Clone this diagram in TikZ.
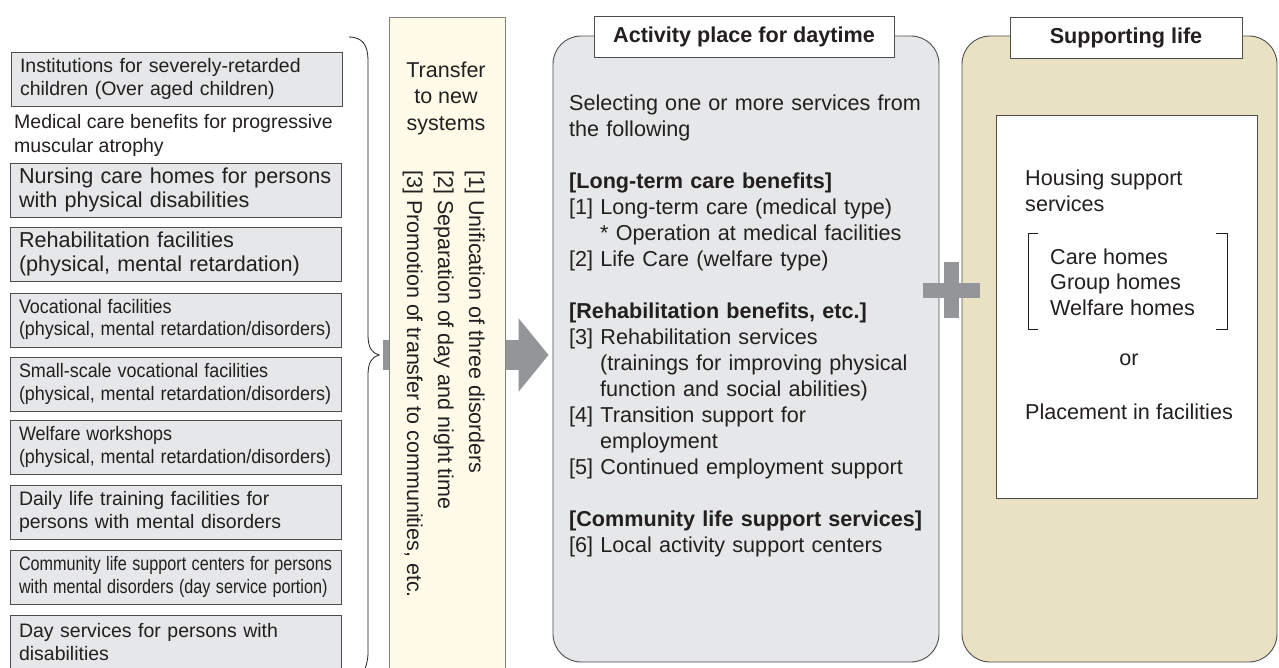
\documentclass[tikz,border=0pt]{standalone}
\usepackage{fontspec}
\usepackage{graphicx}
\setmainfont{Liberation Sans}
\usetikzlibrary{arrows.meta}
\definecolor{boxgray}{HTML}{E6E7E8}
\definecolor{edge}{HTML}{4D4D4F}
\definecolor{ink}{HTML}{231F20}
\definecolor{cream}{HTML}{FFFBE8}
\definecolor{khaki}{HTML}{E8E2C2}
\definecolor{arrowgray}{HTML}{939598}
\newcommand{\condtext}[2]{\scalebox{#1}[1]{\begin{tabular}{@{}l@{}}#2\end{tabular}}}
\tikzset{
  lbox/.style={draw=edge, fill=boxgray, line width=0.9pt, minimum width=331pt, minimum height=54pt,
    text width=313pt, inner xsep=9pt, inner ysep=0pt, align=left, text=ink,
    font=\fontsize{19.5}{23}\selectfont},
  bigbox/.style={lbox, font=\fontsize{21.6}{23.5}\selectfont},
  condbox/.style={lbox, font=\fontsize{19.5}{22.5}\selectfont},
  panel/.style={draw=edge, line width=0.9pt, rounded corners=28pt},
  labelbox/.style={draw=edge, fill=white, line width=0.9pt, minimum height=41pt,
    font=\bfseries\fontsize{21.6}{24}\selectfont, text=ink, inner sep=0pt},
  txt/.style={text=ink, inner sep=0pt, font=\fontsize{21.6}{26}\selectfont},
  bigarrow/.style={arrowgray, line width=30pt, -{Triangle[length=30pt,width=72pt]}},
  thinline/.style={draw=ink, line width=0.8pt}
}
\begin{document}
\begin{tikzpicture}[x=1pt,y=-1pt]
\path[use as bounding box] (0,0) rectangle (1279,667);
\begin{scope}
\clip (0,0) rectangle (1279,667);

% left list of old facilities
\node[lbox] (b1) at (176.5,79) {Institutions for severely-retarded\\children (Over aged children)};
\node[txt, anchor=west, align=left, font=\fontsize{19.5}{24}\selectfont] (b2) at (14,135) {Medical care benefits for progressive\\muscular atrophy};
\node[bigbox] (b3) at (175.5,190) {Nursing care homes for persons\\with physical disabilities};
\node[bigbox] (b4) at (175.5,254) {Rehabilitation facilities\\(physical, mental retardation)};
\node[condbox] (b5) at (175.5,320) {\condtext{0.92}{Vocational facilities\\(physical, mental retardation/disorders)}};
\node[condbox] (b6) at (175.5,384.5) {\condtext{0.92}{Small-scale vocational facilities\\(physical, mental retardation/disorders)}};
\node[condbox] (b7) at (175.5,447.5) {\condtext{0.92}{Welfare workshops\\(physical, mental retardation/disorders)}};
\node[lbox] (b8) at (175.5,512) {Daily life training facilities for\\persons with mental disorders};
\node[condbox] (b9) at (175.5,577.5) {\condtext{0.83}{Community life support centers for persons\\with mental disorders (day service portion)}};
\node[lbox] (b10) at (175.5,642) {Day services for persons with\\disabilities};

% brace
\coordinate (bracetop) at (349,37);
\coordinate (bracetip) at (379,355);
\coordinate (bracebot) at (349,680);
\draw[thinline] (bracetop) .. controls (362,37) and (368,45) .. (368,60) -- (368,335)
  .. controls (368,348) and (372,353) .. (bracetip)
  .. controls (372,357) and (368,362) .. (368,375) -- (368,652)
  .. controls (368,668) and (362,678) .. (bracebot);

% gray panel: activity place for daytime
\node[panel, fill=boxgray, minimum width=386pt, minimum height=626pt] (act) at (746,349) {};
\node[labelbox, minimum width=300pt] (actlab) at (744,36.5) {Activity place for daytime};
\node[txt, anchor=base west, text width=365pt, align=left] (acttext) at (569,110) {Selecting one or more services from\\
the following\\[26pt]
\textbf{[Long-term care benefits]}\\
{[1]} Long-term care (medical type)\\
\hspace*{31pt}* Operation at medical facilities\\
{[2]} Life Care (welfare type)\\[26pt]
\textbf{[Rehabilitation benefits, etc.]}\\
{[3]} Rehabilitation services\\
\hspace*{31pt}(trainings for improving physical\\
\hspace*{31pt}function and social abilities)\\
{[4]} Transition support for\\
\hspace*{31pt}employment\\
{[5]} Continued employment support\\[26pt]
\textbf{[Community life support services]}\\
{[6]} Local activity support centers};

% big arrow (behind the yellow box)
\coordinate (arrstart) at (383,355);
\draw[bigarrow, shorten >=4pt] (arrstart) -- (act.west |- arrstart);

% yellow transfer box
\node[draw=edge!70, fill=cream, line width=0.9pt, minimum width=116pt, minimum height=663pt] (ybox) at (447,348.5) {};
\node[txt, align=center, font=\fontsize{21.5}{26.5}\selectfont] (ytitle) at (446,98) {Transfer\\to new\\systems};
\node[txt, rotate=-90, anchor=north west, align=left, font=\fontsize{21.5}{31}\selectfont] (ylist) at (485,170)
  {{[1]} Unification of three disorders\\{[2]} Separation of day and night time\\{[3]} Promotion of transfer to communities, etc.};

% supporting life panel
\node[panel, fill=khaki, minimum width=315pt, minimum height=626pt] (sup) at (1119.5,349) {};
\node[labelbox, minimum width=232pt] (suplab) at (1126,37.5) {Supporting life};
\node[draw=edge, fill=white, line width=0.9pt, minimum width=261pt, minimum height=383pt] (inner) at (1126.5,306.5) {};
\node[txt, anchor=base west, align=left] (housing) at (1025,211) {Housing support\\services};
\node[txt, anchor=base west, align=left, font=\fontsize{21.6}{25.5}\selectfont] (homes) at (1050,315) {Care homes\\Group homes\\Welfare homes};
\draw[thinline] (1038,233) -- (1028,233) -- (1028,329) -- (1038,329);
\draw[thinline] (1216,233) -- (1227,233) -- (1227,329) -- (1216,329);
\node[txt] (or) at (1129,360) {or};
\node[txt] (placement) at (1129,412) {Placement in facilities};

% plus sign
\fill[arrowgray] (923,283) rectangle (980,298);
\fill[arrowgray] (943.5,262) rectangle (958.5,318);
\end{scope}
\end{tikzpicture}
\end{document}
